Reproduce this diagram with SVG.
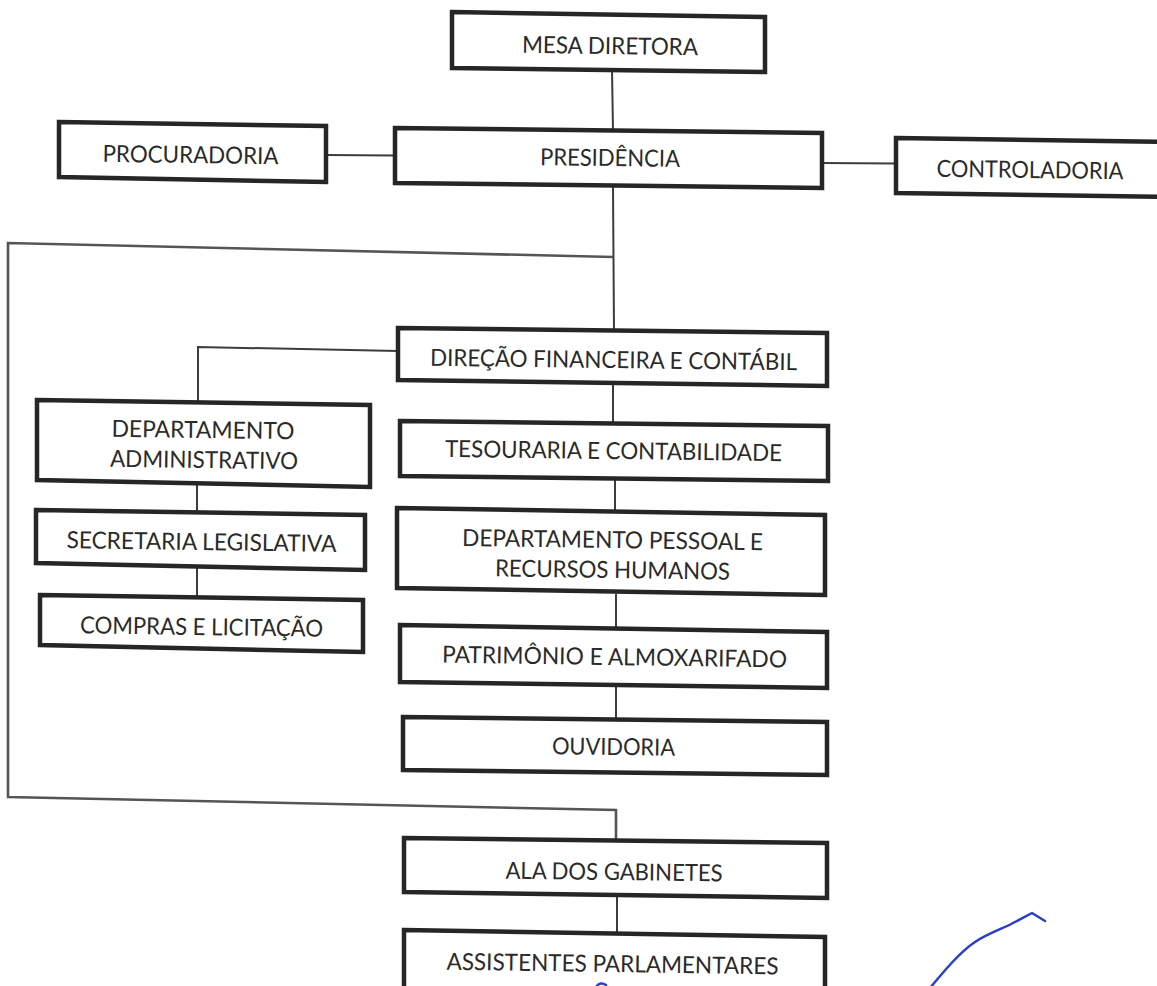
<svg xmlns="http://www.w3.org/2000/svg" width="1157" height="986" viewBox="0 0 1157 986">
<style>
.box{fill:#ffffff;stroke:#262626;stroke-width:4.5;stroke-linejoin:miter}
.t{font-family:Lato,"Open Sans","Liberation Sans",sans-serif;font-size:23.5px;fill:#2a2a2a;text-anchor:middle}
.c{fill:none;stroke:#3c3c3c;stroke-width:2}
.loop{fill:none;stroke:#555555;stroke-width:2.6}
.pen{fill:none;stroke:#2a3fc4;stroke-width:2.5;stroke-linecap:round;stroke-linejoin:round}
</style>
<rect x="0" y="0" width="1157" height="986" fill="#ffffff"/>
<g id="connectors">
<path class="c" d="M612,70 L613,131"/>
<path class="c" d="M326,155 L395,155.5"/>
<path class="c" d="M822,163 L896,163.5"/>
<path class="c" d="M613,187 L614,330"/>
<path class="loop" d="M613,257 L8,243 L8,797 L616,810 L616,840"/>
<path class="c" d="M398,351 L198,347 L198,401"/>
<path class="c" d="M197,484 L197,512"/>
<path class="c" d="M197,567 L197,597"/>
<path class="c" d="M613,384 L613,423"/>
<path class="c" d="M615,479 L615,512"/>
<path class="c" d="M616,594 L616,628"/>
<path class="c" d="M616,687 L616,719"/>
<path class="c" d="M617,896 L617,933"/>
</g>
<g id="mesa">
<polygon class="box" points="452,12 765,17 765,72 452,68"/>
<text class="t" x="610" y="54" textLength="176" lengthAdjust="spacingAndGlyphs" transform="rotate(0.8 610 46)">MESA DIRETORA</text>
</g>
<g id="procuradoria">
<polygon class="box" points="59,122 326,126 326,182 59,177"/>
<text class="t" x="190.5" y="163" textLength="176" lengthAdjust="spacingAndGlyphs" transform="rotate(0.8 190 155)">PROCURADORIA</text>
</g>
<g id="presidencia">
<polygon class="box" points="395,128 822,133 822,188 395,183"/>
<text class="t" x="610" y="166" textLength="140" lengthAdjust="spacingAndGlyphs" transform="rotate(0.7 610 158)">PRESIDÊNCIA</text>
</g>
<g id="controladoria">
<polygon class="box" points="896,138 1175,142 1175,197 896,193"/>
<text class="t" x="1030" y="178" textLength="187" lengthAdjust="spacingAndGlyphs" transform="rotate(0.8 1030 170)">CONTROLADORIA</text>
</g>
<g id="direcao">
<polygon class="box" points="398,328 827,333 827,386 398,380"/>
<text class="t" x="613.5" y="368" textLength="367" lengthAdjust="spacingAndGlyphs" transform="rotate(0.7 613 360)">DIREÇÃO FINANCEIRA E CONTÁBIL</text>
</g>
<g id="tesouraria">
<polygon class="box" points="400,421 828,426 828,481 400,476"/>
<text class="t" x="613.5" y="459" textLength="337" lengthAdjust="spacingAndGlyphs" transform="rotate(0.7 613 451)">TESOURARIA E CONTABILIDADE</text>
</g>
<g id="pessoal">
<polygon class="box" points="397,508 825,515 825,595 397,588"/>
<text class="t" x="612.5" y="548" textLength="301" lengthAdjust="spacingAndGlyphs" transform="rotate(0.8 612 540)">DEPARTAMENTO PESSOAL E</text>
<text class="t" x="612.5" y="578" textLength="235" lengthAdjust="spacingAndGlyphs" transform="rotate(0.8 612 570)">RECURSOS HUMANOS</text>
</g>
<g id="patrimonio">
<polygon class="box" points="400,625 827,632 827,688 400,682"/>
<text class="t" x="614.5" y="665" textLength="345" lengthAdjust="spacingAndGlyphs" transform="rotate(0.8 614 657)">PATRIMÔNIO E ALMOXARIFADO</text>
</g>
<g id="ouvidoria">
<polygon class="box" points="403,717 827,722 827,775 403,770"/>
<text class="t" x="613.5" y="755" textLength="123" lengthAdjust="spacingAndGlyphs" transform="rotate(0.7 613 747)">OUVIDORIA</text>
</g>
<g id="ala">
<polygon class="box" points="404,838 827,843 827,898 404,892"/>
<text class="t" x="614" y="880" textLength="217" lengthAdjust="spacingAndGlyphs" transform="rotate(0.7 614 872)">ALA DOS GABINETES</text>
</g>
<g id="assistentes">
<polygon class="box" points="404,930 825,937 825,994 404,988"/>
<text class="t" x="612.5" y="972" textLength="332" lengthAdjust="spacingAndGlyphs" transform="rotate(0.8 612 964)">ASSISTENTES PARLAMENTARES</text>
</g>
<g id="dep-admin">
<polygon class="box" points="37,400 370,405 370,487 37,480"/>
<text class="t" x="203" y="438" textLength="183" lengthAdjust="spacingAndGlyphs" transform="rotate(0.8 203 430)">DEPARTAMENTO</text>
<text class="t" x="204" y="468" textLength="188" lengthAdjust="spacingAndGlyphs" transform="rotate(0.8 204 460)">ADMINISTRATIVO</text>
</g>
<g id="secretaria">
<polygon class="box" points="36,510 365,515 365,570 36,563"/>
<text class="t" x="201.5" y="550" textLength="270" lengthAdjust="spacingAndGlyphs" transform="rotate(0.8 201 542)">SECRETARIA LEGISLATIVA</text>
</g>
<g id="compras">
<polygon class="box" points="40,595 363,600 363,652 40,645"/>
<text class="t" x="201.5" y="635" textLength="243" lengthAdjust="spacingAndGlyphs" transform="rotate(0.8 201 627)">COMPRAS E LICITAÇÃO</text>
</g>
<path class="pen" d="M930,988 C945,970 960,952 975,942 C990,932 1005,928 1015,922 L1032,913 L1045,921"/>
<path class="pen" d="M596,987 Q600,981 606,985"/>
</svg>
